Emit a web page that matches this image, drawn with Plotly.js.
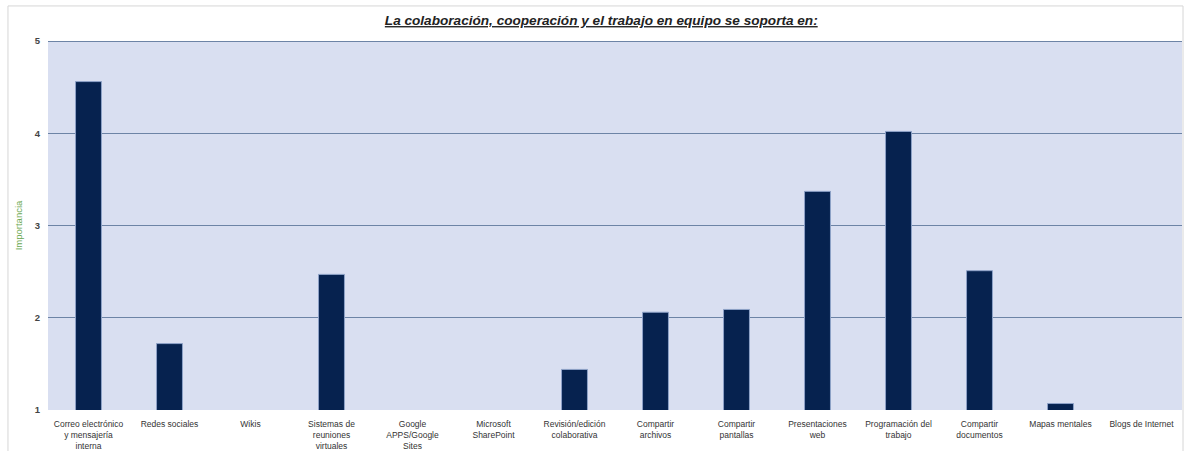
<!DOCTYPE html>
<html>
<head>
<meta charset="utf-8">
<script src="https://cdn.plot.ly/plotly-3.0.1.min.js"></script>
<style>html,body{margin:0;padding:0;background:#fff;}#chart{width:1193px;height:451px;}</style>
</head>
<body>
<div id="chart"></div>
<script>
const categories = [
  "Correo electrónico y mensajería interna",
  "Redes sociales",
  "Wikis",
  "Sistemas de reuniones virtuales",
  "Google APPS/Google Sites",
  "Microsoft SharePoint",
  "Revisión/edición colaborativa",
  "Compartir archivos",
  "Compartir pantallas",
  "Presentaciones web",
  "Programación del trabajo",
  "Compartir documentos",
  "Mapas mentales",
  "Blogs de Internet"
];
const tickLabels = [
  "Correo electrónico<br>y mensajería<br>interna",
  "Redes sociales",
  "Wikis",
  "Sistemas de<br>reuniones<br>virtuales",
  "Google<br>APPS/Google<br>Sites",
  "Microsoft<br>SharePoint",
  "Revisión/edición<br>colaborativa",
  "Compartir<br>archivos",
  "Compartir<br>pantallas",
  "Presentaciones<br>web",
  "Programación del<br>trabajo",
  "Compartir<br>documentos",
  "Mapas mentales",
  "Blogs de Internet"
];
const importancia = [4.56, 1.72, null, 2.47, null, null, 1.44, 2.06, 2.09, 3.37, 4.02, 2.51, 1.07, null];
const yTicks = [1, 2, 3, 4, 5];

const trace = {
  type: 'bar',
  x: categories,
  y: importancia,
  marker: {color: '#06224f', line: {color: '#8ea2c8', width: 1}},
  hoverinfo: 'x+y'
};

const layout = {
  width: 1193, height: 451,
  margin: {l: 48, r: 11, t: 41, b: 41},
  paper_bgcolor: '#ffffff',
  plot_bgcolor: '#d9dff1',
  showlegend: false,
  bargap: 0.68,
  font: {family: 'Liberation Sans, Arial, sans-serif', color: '#222'},
  title: {
    text: '<b><i><u>La colaboración, cooperación y el trabajo en equipo se soporta en:</u></i></b>',
    font: {size: 13.6, color: '#222', family: 'Liberation Sans, Arial, sans-serif'},
    xref: 'container', x: 0.504, xanchor: 'center',
    yref: 'container', y: 0.955, yanchor: 'middle'
  },
  xaxis: {
    type: 'category',
    tickmode: 'array',
    tickvals: categories,
    ticktext: tickLabels,
    tickangle: 0,
    tickfont: {size: 8.5, color: '#333'},
    showgrid: false, zeroline: false, showline: false,
    ticks: 'outside', ticklen: 6, tickcolor: 'rgba(0,0,0,0)'
  },
  yaxis: {
    range: [1, 5],
    tickmode: 'array',
    tickvals: yTicks,
    ticktext: yTicks.map(v => '<b>' + v + '</b>'),
    tickfont: {size: 9.5, color: '#444'},
    ticks: 'outside', ticklen: 5, tickcolor: 'rgba(0,0,0,0)',
    showgrid: true, gridcolor: '#6d84a6', gridwidth: 1.2,
    zeroline: false, showline: false,
    title: {text: 'Importancia', font: {size: 9.5, color: '#6aa84f'}, standoff: 10}
  },
  shapes: [
    {
      type: 'rect', xref: 'paper', yref: 'paper',
      x0: -0.0353, x1: 1.0009, y0: -0.2, y1: 1.095,
      line: {color: '#d6d6d6', width: 1}, fillcolor: 'rgba(0,0,0,0)', layer: 'below'
    },
    {
      type: 'line', xref: 'paper', yref: 'y',
      x0: 0, x1: 1, y0: 5, y1: 5,
      line: {color: '#6d84a6', width: 2}
    }
  ]
};

Plotly.newPlot('chart', [trace], layout, {displayModeBar: false, staticPlot: true});
</script>
</body>
</html>
